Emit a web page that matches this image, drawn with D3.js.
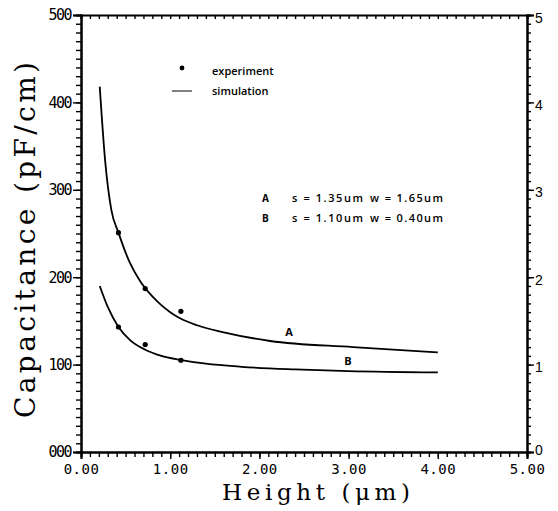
<!DOCTYPE html>
<html>
<head>
<meta charset="utf-8">
<script src="https://cdn.jsdelivr.net/npm/d3@7"></script>
<style>
  body { margin: 0; background: #fff; }
  .axis .domain { stroke: #000; stroke-width: 2; }
  .axis line { stroke: #000; stroke-width: 1.4; }
</style>
</head>
<body>
<div id="chart-area"></div>
<script>
// curves: [height um, capacitance pF/cm]
var simA = [[0.21,418],[0.27,334],[0.34,277],[0.42,251],[0.55,216],[0.66,196],[0.8,178],
            [0.9,168],[1.0,160],[1.11,153],[1.3,145],[1.6,137],[2.12,127],[3.05,120],[4.0,114]];
var simB = [[0.21,190],[0.3,166],[0.42,143],[0.55,128],[0.72,117],[0.9,110],[1.11,105.5],
            [1.4,101],[1.8,97.5],[2.4,94.5],[3.0,92.5],[4.0,91]];
var expA = [[0.42,251],[0.72,187],[1.12,161]];
var expB = [[0.42,143],[0.72,123],[1.12,105]];

var xTicks = [0,1,2,3,4,5];
var yTicks = [0,100,200,300,400,500];
var y2Ticks = [0,1,2,3,4,5];
var paramRows = [["A","s = 1.35um","w = 1.65um"],["B","s = 1.10um","w = 0.40um"]];

var width = 558, height = 511;
var margin = {top:15, bottom:59, left:81, right:31};

var svg = d3.select("#chart-area").append("svg")
    .attr("width", width)
    .attr("height", height);

var x = d3.scaleLinear().domain([0,5]).range([margin.left, width - margin.right]);
var y = d3.scaleLinear().domain([0,500]).range([height - margin.bottom, margin.top]);
var y2 = d3.scaleLinear().domain([0,5]).range([height - margin.bottom, margin.top]);

var mono = "DejaVu Sans Mono";
var bottomY = height - margin.bottom, rightX = width - margin.right;

// left axis
svg.append("g").attr("class","axis")
    .attr("transform","translate("+margin.left+",0)")
    .call(d3.axisLeft(y).tickValues(d3.range(0,501,10)).tickSize(5).tickFormat(""));
svg.append("g").attr("class","axis")
    .attr("transform","translate("+margin.left+",0)")
    .call(d3.axisLeft(y).tickValues(yTicks).tickSize(8).tickPadding(2).tickFormat(d3.format("03d")))
    .selectAll("text")
    .attr("font-family", mono).attr("font-size","15px").attr("letter-spacing","-1.5px")
    .attr("fill","#000");

// bottom axis
svg.append("g").attr("class","axis")
    .attr("transform","translate(0,"+bottomY+")")
    .call(d3.axisBottom(x).tickValues(d3.range(0,50.1,1).map(d=>d/10)).tickSize(5).tickFormat(""));
svg.append("g").attr("class","axis")
    .attr("transform","translate(0,"+bottomY+")")
    .call(d3.axisBottom(x).tickValues(xTicks).tickSize(7).tickPadding(5).tickFormat(d3.format(".2f")))
    .selectAll("text")
    .attr("font-family", mono).attr("font-size","14px").attr("letter-spacing","0.5px")
    .attr("fill","#000");

// top axis, ticks inward
svg.append("g").attr("class","axis")
    .attr("transform","translate(0,"+margin.top+")")
    .call(d3.axisTop(x).tickValues(d3.range(0,50.1,1).map(d=>d/10)).tickSize(-4).tickFormat(""));

// right axis
svg.append("g").attr("class","axis")
    .attr("transform","translate("+rightX+",0)")
    .call(d3.axisRight(y2).tickValues(d3.range(0,50.1,1).map(d=>d/10)).tickSize(4).tickFormat(""));
svg.append("g").attr("class","axis")
    .attr("transform","translate("+rightX+",0)")
    .call(d3.axisRight(y2).tickValues(y2Ticks).tickSize(7).tickPadding(1).tickFormat(d3.format("d")))
    .selectAll("text")
    .attr("font-family","Liberation Sans").attr("font-size","14px")
    .attr("dy", d => d === 0 ? "0.2em" : "0.5em")
    .attr("fill","#000");

// axis titles
var serif = "DejaVu Serif";
svg.append("text")
    .attr("x", 222).attr("y", 500)
    .attr("font-family",serif).attr("font-size","23px")
    .attr("textLength",188).attr("lengthAdjust","spacing")
    .text("Height (\u03bcm)");

svg.append("text")
    .attr("transform","translate(35,418) rotate(-90)")
    .attr("font-family",serif).attr("font-size","28px")
    .attr("textLength",356).attr("lengthAdjust","spacing")
    .text("Capacitance (pF/cm)");

// curves
var line = d3.line()
    .x(d => x(d[0]))
    .y(d => y(d[1]))
    .curve(d3.curveMonotoneX);

[simA, simB].forEach(function(s){
    svg.append("path")
        .attr("d", line(s))
        .attr("fill","none")
        .attr("stroke","#000")
        .attr("stroke-width",1.8);
});

svg.selectAll("circle.exp")
    .data(expA.concat(expB))
    .enter().append("circle")
    .attr("class","exp")
    .attr("cx", d => x(d[0]))
    .attr("cy", d => y(d[1]))
    .attr("r", 2.6)
    .attr("fill","#000");

// legend
var lab = "Open Sans";
svg.append("circle").attr("cx",182).attr("cy",68).attr("r",2.4).attr("fill","#000");
svg.append("line").attr("x1",172).attr("x2",192).attr("y1",91).attr("y2",91)
    .attr("stroke","#000").attr("stroke-width",1);
svg.append("text").attr("x",212).attr("y",75)
    .attr("font-family",lab).attr("font-weight",600).attr("font-size","11px")
    .text("experiment");
svg.append("text").attr("x",212).attr("y",95)
    .attr("font-family",lab).attr("font-weight",600).attr("font-size","11px")
    .text("simulation");

// parameter table
paramRows.forEach(function(r, i){
    var by = 202 + i*20;
    svg.append("text").attr("x",262).attr("y",by)
        .attr("font-family",lab).attr("font-weight",700).attr("font-size","10px").text(r[0]);
    svg.append("text").attr("x",292).attr("y",by)
        .attr("font-family",lab).attr("font-weight",600).attr("font-size","11px")
        .attr("textLength",71).attr("lengthAdjust","spacing").attr("xml:space","preserve")
        .text(r[1]);
    svg.append("text").attr("x",370).attr("y",by)
        .attr("font-family",lab).attr("font-weight",600).attr("font-size","11px")
        .attr("textLength",73).attr("lengthAdjust","spacing").attr("xml:space","preserve")
        .text(r[2]);
});

// curve labels
svg.append("text").attr("x",289).attr("y",336).attr("text-anchor","middle")
    .attr("font-family",lab).attr("font-weight",700).attr("font-size","11px").text("A");
svg.append("text").attr("x",348).attr("y",365).attr("text-anchor","middle")
    .attr("font-family",lab).attr("font-weight",700).attr("font-size","11px").text("B");
</script>
</body>
</html>
